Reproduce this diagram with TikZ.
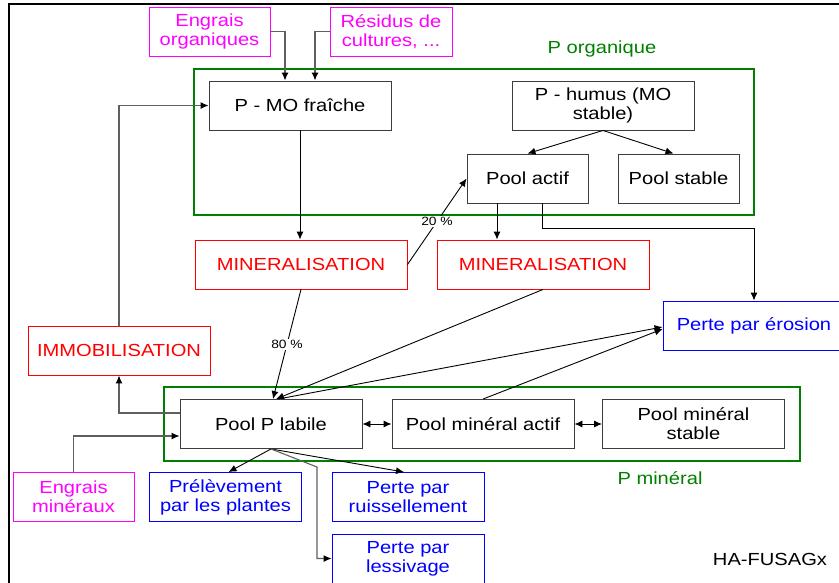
\documentclass[tikz,border=0pt]{standalone}
\usepackage{fontspec}
\setmainfont[FakeStretch=1.15]{Liberation Sans}
\usetikzlibrary{arrows.meta,calc}
\definecolor{mag}{RGB}{255,0,255}
\definecolor{myred}{RGB}{255,0,0}
\definecolor{myblue}{RGB}{0,0,255}
\definecolor{mygreen}{RGB}{0,128,0}
\definecolor{bord}{RGB}{60,60,60}
\definecolor{lgray}{RGB}{95,95,95}
\begin{document}
\begin{tikzpicture}[x=1pt,y=-1pt,
  txt/.style={font=\fontsize{17.5}{18.8}\selectfont},
  bx/.style={draw=bord,line width=0.9pt,minimum width=#1,minimum height=49pt,inner sep=0pt,align=center,txt,fill=white},
  magbx/.style={bx=#1,draw=mag,text=mag},
  redbx/.style={bx=#1,draw=myred,text=myred},
  bluebx/.style={bx=#1,draw=myblue,text=myblue},
  gframe/.style={draw=mygreen,line width=1.4pt,inner sep=0pt},
  glbl/.style={txt,text=mygreen},
  tip/.style={-{Latex[length=8pt,width=7pt,color=black]}},
  arr/.style={tip,line width=0.9pt,black},
  garr/.style={tip,line width=1.1pt,lgray},
  darr/.style={{Latex[length=8pt,width=7pt]}-{Latex[length=8pt,width=7pt]},line width=0.9pt,black},
  pct/.style={fill=white,inner sep=1pt,font=\fontsize{12}{13}\selectfont}
]
\useasboundingbox (0,0) rectangle (839,582);
\draw[line width=2pt] (9,583) -- (9,4) -- (840,4);

% organic part
\node[gframe,minimum width=560pt,minimum height=146pt] (porg) at (474,142) {};
\node[glbl] (porglbl) at (602,49) {P organique};
\node[magbx=121pt] (eorg) at (209.5,31.5) {Engrais\\organiques};
\node[magbx=122pt] (resid) at (391,31.5) {Résidus de\\cultures, ...};
\node[bx=182pt] (mo) at (300,105.5) {P - MO fraîche};
\node[bx=182pt] (humus) at (603,105.5) {P - humus (MO\\stable)};
\node[bx=121pt] (pactif) at (527.5,178.5) {Pool actif};
\node[bx=121pt] (pstable) at (678.5,178.5) {Pool stable};

\node[redbx=212pt] (min1) at (301,264.5) {MINERALISATION};
\node[redbx=212pt] (min2) at (543,264.5) {MINERALISATION};
\node[bluebx=182pt] (eros) at (754,325.5) {Perte par érosion};
\node[redbx=182pt] (immo) at (119,350.5) {IMMOBILISATION};

% mineral part
\node[gframe,minimum width=636pt,minimum height=74pt] (pmin) at (482,424) {};
\node[bx=182pt] (labile) at (271,424) {Pool P labile};
\node[bx=182pt] (mactif) at (483,424) {Pool minéral actif};
\node[bx=182pt] (mstable) at (693.5,424) {Pool minéral\\stable};
\node[glbl] (pminlbl) at (660,478) {P minéral};

\node[magbx=121pt] (emin) at (73.5,497) {Engrais\\minéraux};
\node[bluebx=152pt] (prel) at (225.5,497) {Prélèvement\\par les plantes};
\node[bluebx=152pt] (ruiss) at (408,497) {Perte par\\ruissellement};
\node[bluebx=152pt] (less) at (408,558.5) {Perte par\\lessivage};
\node[txt] (ha) at (770,559) {HA-FUSAGx};

% connectors
\draw[garr] (eorg.east) -| ([xshift=-15pt]mo.north);
\draw[garr] (resid.west) -| ([xshift=15pt]mo.north);
\draw[arr] (mo.south) -- (mo.south |- min1.north);
\draw[arr] (humus.south) -- (pactif.north);
\draw[arr] (humus.south) -- ([xshift=-5pt]pstable.north);
\draw[arr] ([xshift=-30.5pt]pactif.south) -- ([xshift=-30.5pt]pactif.south |- min2.north);
\draw[arr] ([xshift=15pt]pactif.south) -- ++(0,25) -| (eros.north);
\draw[arr] (min1.east) -- (pactif.west) node[pct,pos=0.5] {20 \%};
\draw[arr] (min1.south) -- ([xshift=2pt]labile.north) node[pct,midway] {80 \%};
\draw[arr] (min2.south) -- ([xshift=5pt]labile.north);
\draw[arr] ([xshift=7pt]labile.north) -- ([yshift=-1.5pt]eros.west);
\draw[arr] (mactif.north) -- ([yshift=-3.5pt]eros.west);
\draw[garr] ([yshift=11pt]labile.west) -| (immo.south);
\draw[garr] (immo.north) |- (mo.west);
\draw[garr] (emin.north) |- ([yshift=-12pt]labile.west);
\draw[darr] (labile.east) -- (mactif.west);
\draw[darr] (mactif.east) -- (mstable.west);
\draw[arr] (labile.south) -- ([xshift=3pt]prel.north);
\draw[arr] (labile.south) -- ([xshift=-4pt]ruiss.north);
\coordinate (bend) at (317,467);
\draw[garr] (labile.south) -- (bend) |- (less.west);
\end{tikzpicture}
\end{document}
